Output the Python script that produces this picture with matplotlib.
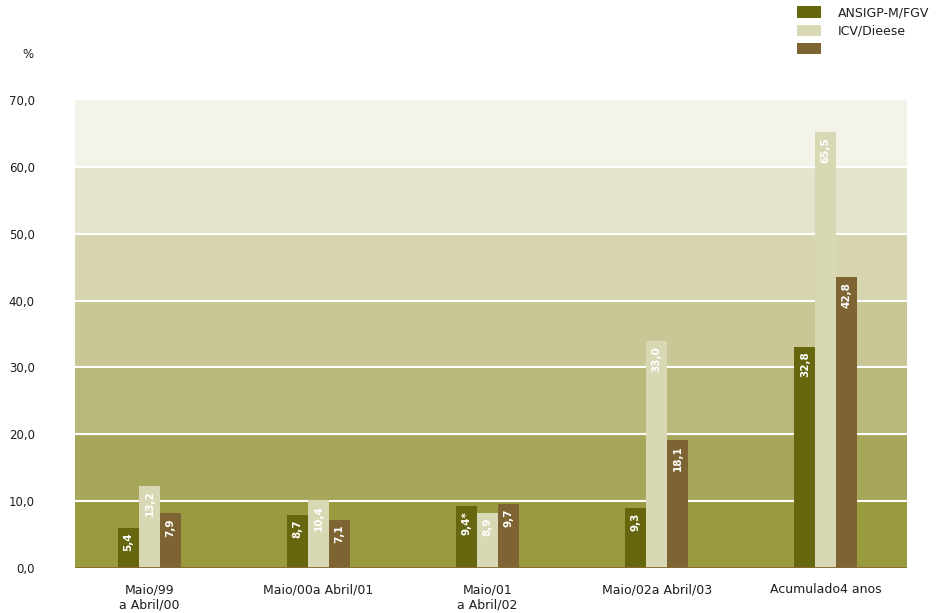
import matplotlib
matplotlib.use("Agg")
import matplotlib.pyplot as plt
import numpy as np

plt.rcParams['font.family'] = ['DejaVu Sans']

categories = ["Maio/99\na Abril/00", "Maio/00a Abril/01", "Maio/01\na Abril/02",
              "Maio/02a Abril/03", "Acumulado4 anos"]
series_names = ["ANSIGP-M/FGV", "ICV/Dieese", ""]
# bar heights as drawn in the picture
ansigp = [6.0, 8.0, 9.2, 9.0, 33.1]
icv = [12.3, 10.2, 8.3, 33.9, 65.2]
third = [8.2, 7.2, 9.6, 19.1, 43.5]
# value labels printed on the bars
ansigp_lbl = ["5,4", "8,7", "9,4*", "9,3", "32,8"]
icv_lbl = ["13,2", "10,4", "8,9", "33,0", "65,5"]
third_lbl = ["7,9", "7,1", "9,7", "18,1", "42,8"]
yticks = [0, 10, 20, 30, 40, 50, 60, 70]
ytick_labels = ["0,0", "10,0", "20,0", "30,0", "40,0", "50,0", "60,0", "70,0"]

bar_colors = ["#66660e", "#d8d8b4", "#7e6432"]
band_colors = ["#9a9a3e", "#a7a75b", "#b8b87a", "#c8c795", "#d6d5b0", "#e4e3cc", "#f4f3ea"]

fig = plt.figure(figsize=(9.48, 6.13), dpi=100)
ax = fig.add_axes([75/948, 45/613, 832/948, 468/613])

for i in range(len(yticks) - 1):
    ax.axhspan(yticks[i], yticks[i+1], color=band_colors[i], lw=0, zorder=0)
for y in yticks[1:-1]:
    ax.axhline(y, color="white", lw=1.5, zorder=1)

x = np.arange(len(categories))
w = 0.124
data = [ansigp, icv, third]
labels = [ansigp_lbl, icv_lbl, third_lbl]
handles = []
for k in range(3):
    bars = ax.bar(x + (k - 1) * w, data[k], width=w, color=bar_colors[k], zorder=2)
    handles.append(bars)
    for xi, v, t in zip(x + (k - 1) * w, data[k], labels[k]):
        ax.annotate(t, (xi, v), xytext=(0, -3.5), textcoords="offset points",
                    rotation=90, ha="center", va="top", color="white",
                    fontsize=7.5, fontweight="bold", zorder=3)

ax.axhline(0, color="#8a6a30", lw=2, zorder=4)

ax.set_xlim(-0.44, 4.48)
ax.set_ylim(0, 70)
ax.set_yticks(yticks)
ax.set_yticklabels(ytick_labels, fontsize=8.5, color="#1e1e1e")
ax.set_xticks(x)
ax.set_xticklabels(categories, fontsize=9, color="#1e1e1e", linespacing=1.2)
ax.tick_params(axis="y", length=0, pad=29)
ax.tick_params(axis="x", length=0, pad=11)
for s in ax.spines.values():
    s.set_visible(False)

fig.text(28/948, 1 - 54/613, "%", fontsize=8.5, color="#1e1e1e", ha="center", va="center")

leg = fig.legend(handles=handles, labels=series_names,
                 loc="upper left", bbox_to_anchor=(786/948, 1 + 5/613),
                 frameon=False, fontsize=9, handlelength=1.9, handleheight=1.0,
                 labelspacing=0.42, handletextpad=1.35)
for t in leg.get_texts():
    t.set_color("#1e1e1e")

fig.savefig("out.png", dpi=100)
